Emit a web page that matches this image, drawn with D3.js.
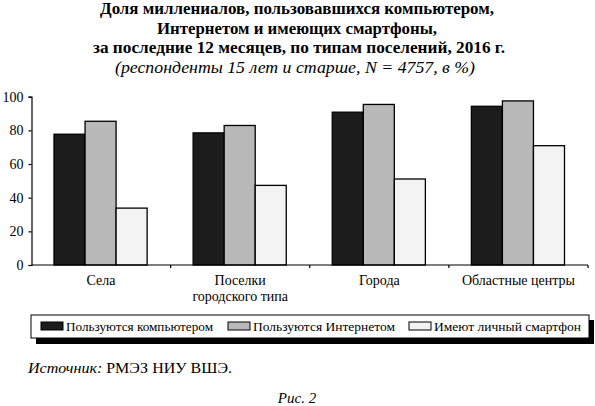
<!DOCTYPE html>
<html>
<head>
<meta charset="utf-8">
<script src="https://cdn.jsdelivr.net/npm/d3@7"></script>
<style>
  html, body { margin: 0; padding: 0; background: #fff; }
</style>
</head>
<body>
<svg id="chart" width="595" height="406"></svg>
<script>
// Values
const categories = ["Села", "Поселки\nгородского типа", "Города", "Областные центры"];
const seriesNames = ["Пользуются компьютером", "Пользуются Интернетом", "Имеют личный смартфон"];
const computer = [77.7, 78.5, 90.8, 94.3];
const internet = [85.4, 82.9, 95.4, 97.5];
const smartphone = [33.8, 47.3, 51.1, 70.9];
const yTicks = [0, 20, 40, 60, 80, 100];
const titleLines = [
  "Доля миллениалов, пользовавшихся компьютером,",
  "Интернетом и имеющих смартфоны,",
  "за последние 12 месяцев, по типам поселений, 2016 г."
];
const subtitle = "(респонденты 15 лет и старше, N = 4757, в %)";

const colors = ["#1c1c1c", "#b9b9b9", "#f3f3f3"];
const FONT = "'Liberation Serif'";

const svg = d3.select("#chart");
const root = svg.append("g");

// Title block (widths)
const titleWidths = [394, 280, 412];
const titleX = [297, 297, 299];
const title = root.append("g").attr("text-anchor", "middle");
titleLines.forEach((t, i) => {
  title.append("text")
    .attr("x", titleX[i])
    .attr("y", 14 + i * 19.5)
    .style("font-family", FONT)
    .style("font-size", "16px")
    .style("font-weight", "bold")
    .attr("textLength", titleWidths[i])
    .attr("lengthAdjust", "spacingAndGlyphs")
    .text(t);
});
title.append("text")
  .attr("x", 295)
  .attr("y", 72.5)
  .style("font-family", FONT)
  .style("font-size", "16px")
  .style("font-style", "italic")
  .attr("textLength", 360)
  .attr("lengthAdjust", "spacingAndGlyphs")
  .text(subtitle);

const margin = { left: 31.5, right: 588, top: 96.7, bottom: 265 };

const x = d3.scaleBand()
  .domain(categories)
  .range([margin.left, margin.right])
  .padding(0);

const xInner = d3.scaleBand()
  .domain(seriesNames)
  .range([22.5, x.bandwidth() - 23.5])
  .padding(0);

const y = d3.scaleLinear()
  .domain([0, 100])
  .range([margin.bottom, margin.top]);

const rows = categories.map((c, i) => ({
  category: c,
  values: [computer[i], internet[i], smartphone[i]]
}));

// Bars
const groups = root.append("g")
  .selectAll("g")
  .data(rows)
  .enter().append("g")
  .attr("transform", d => `translate(${x(d.category)},0)`);

groups.selectAll("rect")
  .data(d => d.values.map((v, j) => ({ name: seriesNames[j], value: v, j })))
  .enter().append("rect")
  .attr("x", d => xInner(d.name))
  .attr("width", xInner.bandwidth())
  .attr("y", d => y(d.value))
  .attr("height", d => y(0) - y(d.value))
  .attr("fill", d => colors[d.j])
  .attr("stroke", "#000")
  .attr("stroke-width", 1.3);

// Y axis
const yAxis = root.append("g")
  .attr("transform", `translate(${margin.left},0)`)
  .call(d3.axisLeft(y).tickValues(yTicks).tickSize(3).tickPadding(5));
yAxis.selectAll("text")
  .style("font-family", FONT)
  .style("font-size", "14px")
  .attr("fill", "#000");
yAxis.select(".domain").attr("stroke", "#000").attr("stroke-width", 1.2);
yAxis.selectAll(".tick line").attr("stroke", "#000").attr("stroke-width", 1.2);

// X axis with ticks at band boundaries
const xAxis = root.append("g")
  .attr("transform", `translate(0,${margin.bottom})`);
xAxis.append("line")
  .attr("x1", margin.left)
  .attr("x2", margin.right)
  .attr("stroke", "#000")
  .attr("stroke-width", 1.2);
xAxis.selectAll(".xtick")
  .data(categories.slice(1).concat(["end"]))
  .enter().append("line")
  .attr("class", "xtick")
  .attr("x1", d => d === "end" ? margin.right : x(d))
  .attr("x2", d => d === "end" ? margin.right : x(d))
  .attr("y1", 0)
  .attr("y2", 3)
  .attr("stroke", "#000")
  .attr("stroke-width", 1.2);

const labels = xAxis.selectAll(".xlabel")
  .data(categories)
  .enter().append("text")
  .attr("class", "xlabel")
  .attr("text-anchor", "middle")
  .style("font-family", FONT)
  .style("font-size", "14px")
  .attr("transform", d => `translate(${x(d) + x.bandwidth() / 2},20)`);
labels.selectAll("tspan")
  .data(d => d.split("\n"))
  .enter().append("tspan")
  .attr("x", 0)
  .attr("dy", (d, i) => i === 0 ? 0 : 16)
  .text(d => d);

// Legend with drop shadow
const legend = root.append("g");
legend.append("rect")
  .attr("x", 36).attr("y", 320)
  .attr("width", 558).attr("height", 24)
  .attr("fill", "#000");
legend.append("rect")
  .attr("x", 31).attr("y", 315)
  .attr("width", 558).attr("height", 23)
  .attr("fill", "#fff")
  .attr("stroke", "#000")
  .attr("stroke-width", 1);

const legendX = [41, 228, 409];
const legendW = [147, 142, 147];
seriesNames.forEach((name, i) => {
  legend.append("rect")
    .attr("x", legendX[i]).attr("y", 322)
    .attr("width", 22).attr("height", 8)
    .attr("fill", colors[i])
    .attr("stroke", "#000")
    .attr("stroke-width", 1);
  legend.append("text")
    .attr("x", legendX[i] + 25)
    .attr("y", 331)
    .style("font-family", FONT)
    .style("font-size", "13px")
    .attr("textLength", legendW[i])
    .attr("lengthAdjust", "spacingAndGlyphs")
    .text(name);
});

// Source and figure caption
const source = root.append("text")
  .attr("x", 28)
  .attr("y", 373)
  .style("font-family", FONT)
  .style("font-size", "14px")
  .attr("textLength", 204)
  .attr("lengthAdjust", "spacingAndGlyphs");
source.append("tspan").style("font-style", "italic").text("Источник:");
source.append("tspan").text(" РМЭЗ НИУ ВШЭ.");

root.append("text")
  .attr("x", 297)
  .attr("y", 403)
  .attr("text-anchor", "middle")
  .style("font-family", FONT)
  .style("font-size", "15px")
  .style("font-style", "italic")
  .text("Рис. 2");
</script>
</body>
</html>
